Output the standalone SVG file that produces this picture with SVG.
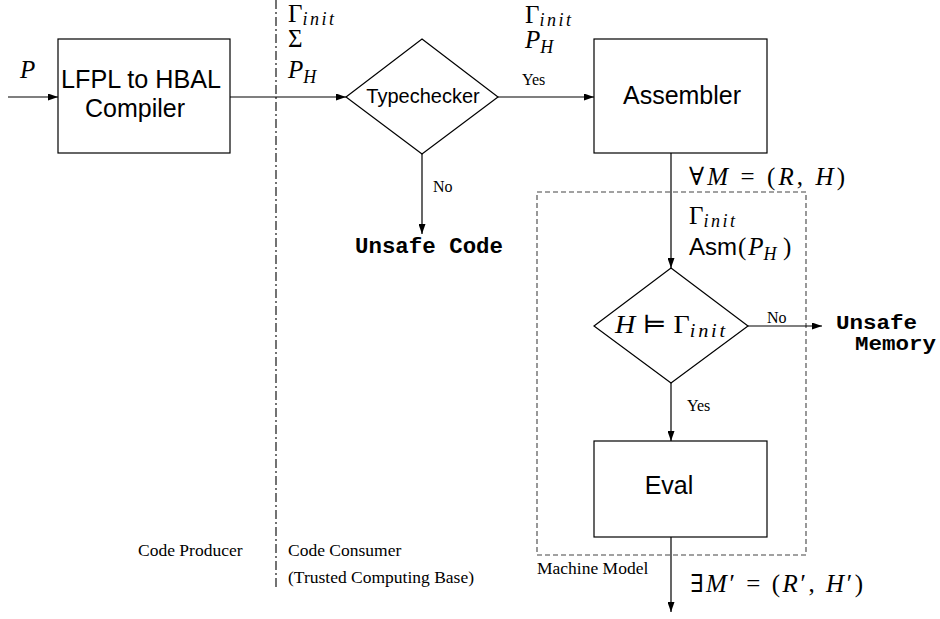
<svg xmlns="http://www.w3.org/2000/svg" width="940" height="619" viewBox="0 0 940 619">
  <style>
    .box { fill: #fff; stroke: #000; stroke-width: 1.2; }
    .edge { fill: none; stroke: #000; stroke-width: 1.2; }
    .sans { font-family: "Liberation Sans", Arial, sans-serif; fill: #000; }
    .serif { font-family: "Liberation Serif", "Times New Roman", serif; fill: #000; }
    .math { font-family: "Liberation Serif", "DejaVu Serif", serif; font-size: 25px; fill: #000; }
    .it { font-style: italic; }
    .sub { font-style: italic; font-size: 18px; letter-spacing: 2.5px; }
    .mono { font-family: "Liberation Mono", "Courier New", monospace; font-weight: bold; font-size: 22px; fill: #000; }
    .mono-sm { font-size: 20px; }
    .lbl { font-size: 16px; }
    .note { font-size: 17.5px; }
  </style>
  <defs>
    <marker id="arrow" markerWidth="10" markerHeight="7" refX="10" refY="3.5" orient="auto" markerUnits="userSpaceOnUse">
      <path d="M0,0 L10,3.5 L0,7 z" fill="#000"/>
    </marker>
  </defs>

  <rect width="940" height="619" fill="#fff"/>

  <!-- producer / consumer boundary -->
  <line x1="276" y1="0" x2="276" y2="590" stroke="#000" stroke-width="1.1" stroke-dasharray="9 3 2 3"/>

  <!-- machine model region -->
  <rect id="machine-model" x="537" y="192" width="269" height="363" fill="none" stroke="#444" stroke-width="1.1" stroke-dasharray="5 3"/>

  <!-- connectors -->
  <g id="connectors">
    <line class="edge" x1="8" y1="97" x2="58" y2="97" marker-end="url(#arrow)"/>
    <line class="edge" x1="230" y1="97" x2="346" y2="97" marker-end="url(#arrow)"/>
    <line class="edge" x1="498" y1="97" x2="594" y2="97" marker-end="url(#arrow)"/>
    <line class="edge" x1="422" y1="154" x2="422" y2="234" marker-end="url(#arrow)"/>
    <line class="edge" x1="671" y1="153" x2="671" y2="268" marker-end="url(#arrow)"/>
    <line class="edge" x1="748" y1="326" x2="822" y2="326" marker-end="url(#arrow)"/>
    <line class="edge" x1="671" y1="383" x2="671" y2="441" marker-end="url(#arrow)"/>
    <line class="edge" x1="671" y1="537" x2="671" y2="612" marker-end="url(#arrow)"/>

    <text class="serif lbl" x="522" y="85">Yes</text>
    <text class="serif lbl" x="433" y="192">No</text>
    <text class="serif lbl" x="767" y="323">No</text>
    <text class="serif lbl" x="687" y="411">Yes</text>
  </g>

  <!-- nodes -->
  <g id="compiler">
    <rect class="box" x="58" y="39" width="172" height="114"/>
    <text class="sans" x="61" y="88" font-size="25" textLength="160" lengthAdjust="spacingAndGlyphs">LFPL to HBAL</text>
    <text class="sans" x="135" y="117" font-size="25" text-anchor="middle">Compiler</text>
  </g>

  <g id="typechecker">
    <polygon class="box" points="422,39 498,97 422,154 346,97"/>
    <text class="sans" x="423" y="103" font-size="20" text-anchor="middle">Typechecker</text>
  </g>

  <g id="assembler">
    <rect class="box" x="594" y="39" width="173" height="114"/>
    <text class="sans" x="682" y="104" font-size="25" text-anchor="middle">Assembler</text>
  </g>

  <g id="heap-check">
    <polygon class="box" points="671,268 748,326 671,383 594,326"/>
    <text class="math" x="615" y="333" textLength="113" lengthAdjust="spacingAndGlyphs"><tspan class="it">H</tspan> ⊨ Γ<tspan class="sub" dy="4">init</tspan></text>
  </g>

  <g id="eval">
    <rect class="box" x="594" y="441" width="173" height="96"/>
    <text class="sans" x="669" y="494" font-size="25" text-anchor="middle">Eval</text>
  </g>

  <g id="unsafe-code">
    <text class="mono" x="355" y="253" textLength="148" lengthAdjust="spacingAndGlyphs">Unsafe Code</text>
  </g>

  <g id="unsafe-memory">
    <text class="mono mono-sm" x="836" y="329" textLength="81" lengthAdjust="spacingAndGlyphs">Unsafe</text>
    <text class="mono mono-sm" x="855" y="350" textLength="81" lengthAdjust="spacingAndGlyphs">Memory</text>
  </g>

  <!-- data carried along the edges -->
  <g id="edge-data">
    <text class="math it" x="20" y="78">P</text>

    <text class="math" x="288" y="22">Γ<tspan class="sub" dy="3">init</tspan></text>
    <text class="math" x="288" y="47">Σ</text>
    <text class="math" x="288" y="78"><tspan class="it">P</tspan><tspan class="sub" dy="5" letter-spacing="0">H</tspan></text>

    <text class="math" x="525" y="23">Γ<tspan class="sub" dy="3">init</tspan></text>
    <text class="math" x="525" y="48"><tspan class="it">P</tspan><tspan class="sub" dy="5" letter-spacing="0">H</tspan></text>

    <text class="math" x="689" y="185" textLength="156" lengthAdjust="spacing">∀<tspan class="it">M</tspan> = (<tspan class="it">R</tspan>, <tspan class="it">H</tspan>)</text>
    <text class="math" x="689" y="224">Γ<tspan class="sub" dy="3">init</tspan></text>
    <text x="689" y="255"><tspan class="sans" font-size="24">Asm</tspan><tspan class="math" dx="1">(<tspan class="it" dx="2">P</tspan><tspan class="sub" dy="5" letter-spacing="0">H</tspan><tspan dy="-5" dx="4">)</tspan></tspan></text>

    <text class="math" x="690" y="592" textLength="173" lengthAdjust="spacing">∃<tspan class="it">M</tspan>′ = (<tspan class="it">R</tspan>′, <tspan class="it">H</tspan>′)</text>
  </g>

  <!-- region captions -->
  <g id="captions">
    <text class="serif note" x="138" y="556">Code Producer</text>
    <text class="serif note" x="288" y="556">Code Consumer</text>
    <text class="serif note" x="288" y="583">(Trusted Computing Base)</text>
    <text class="serif note" x="537" y="574">Machine Model</text>
  </g>
</svg>
